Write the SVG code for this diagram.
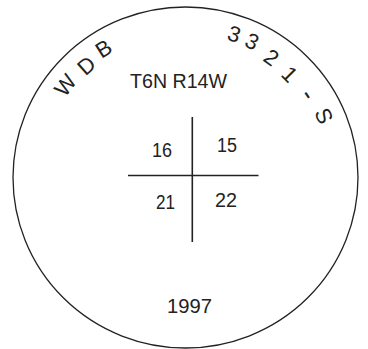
<svg xmlns="http://www.w3.org/2000/svg" width="368" height="349" viewBox="0 0 368 349">
  <style>
    .t { font-family: "Liberation Sans", Arial, sans-serif; fill: #222; }
    .arc { font-size: 22px; text-anchor: middle; }
    .line { stroke: #222; stroke-width: 1.6; fill: none; }
  </style>
  <rect width="368" height="349" fill="#fff"/>
  <g id="boundary">
    <ellipse cx="185.5" cy="177.5" rx="172.5" ry="170.5" fill="none" stroke="#222" stroke-width="1.3"/>
  </g>
  <g id="curved-label-left" class="t arc">
    <text transform="translate(185.5,177.5) rotate(-52.5)" x="0" y="-144">W</text>
    <text transform="translate(185.5,177.5) rotate(-41.5)" x="0" y="-142">D</text>
    <text transform="translate(185.5,177.5) rotate(-32.4)" x="0" y="-145">B</text>
  </g>
  <g id="curved-label-right" class="t arc">
    <text transform="translate(185.5,177.5) rotate(18.8)" x="0" y="-144">3</text>
    <text transform="translate(185.5,177.5) rotate(26.1)" x="0" y="-144">3</text>
    <text transform="translate(185.5,177.5) rotate(35.6)" x="0" y="-140">2</text>
    <text transform="translate(185.5,177.5) rotate(45.3)" x="0" y="-139">1</text>
    <text transform="translate(185.5,177.5) rotate(55.9)" x="0" y="-140" style="font-size:26px">-</text>
    <text transform="translate(185.5,177.5) rotate(66)" x="0" y="-144">S</text>
  </g>
  <g id="township" class="t">
    <text x="178.5" y="88" font-size="21" text-anchor="middle" textLength="97" lengthAdjust="spacingAndGlyphs">T6N R14W</text>
  </g>
  <g id="connectors">
    <line class="line" x1="192.3" y1="117" x2="192.3" y2="242"/>
    <line class="line" x1="128" y1="175.5" x2="258.5" y2="175.5"/>
  </g>
  <g id="sec16" class="t"><text x="162" y="157" font-size="20" text-anchor="middle" textLength="20" lengthAdjust="spacingAndGlyphs">16</text></g>
  <g id="sec15" class="t"><text x="227" y="152" font-size="20" text-anchor="middle" textLength="20" lengthAdjust="spacingAndGlyphs">15</text></g>
  <g id="sec21" class="t"><text x="165.5" y="209" font-size="20" text-anchor="middle" textLength="19" lengthAdjust="spacingAndGlyphs">21</text></g>
  <g id="sec22" class="t"><text x="226" y="207" font-size="20" text-anchor="middle" textLength="22" lengthAdjust="spacingAndGlyphs">22</text></g>
  <g id="year" class="t">
    <text x="189.5" y="313" font-size="21" text-anchor="middle" textLength="45" lengthAdjust="spacingAndGlyphs">1997</text>
  </g>
</svg>
